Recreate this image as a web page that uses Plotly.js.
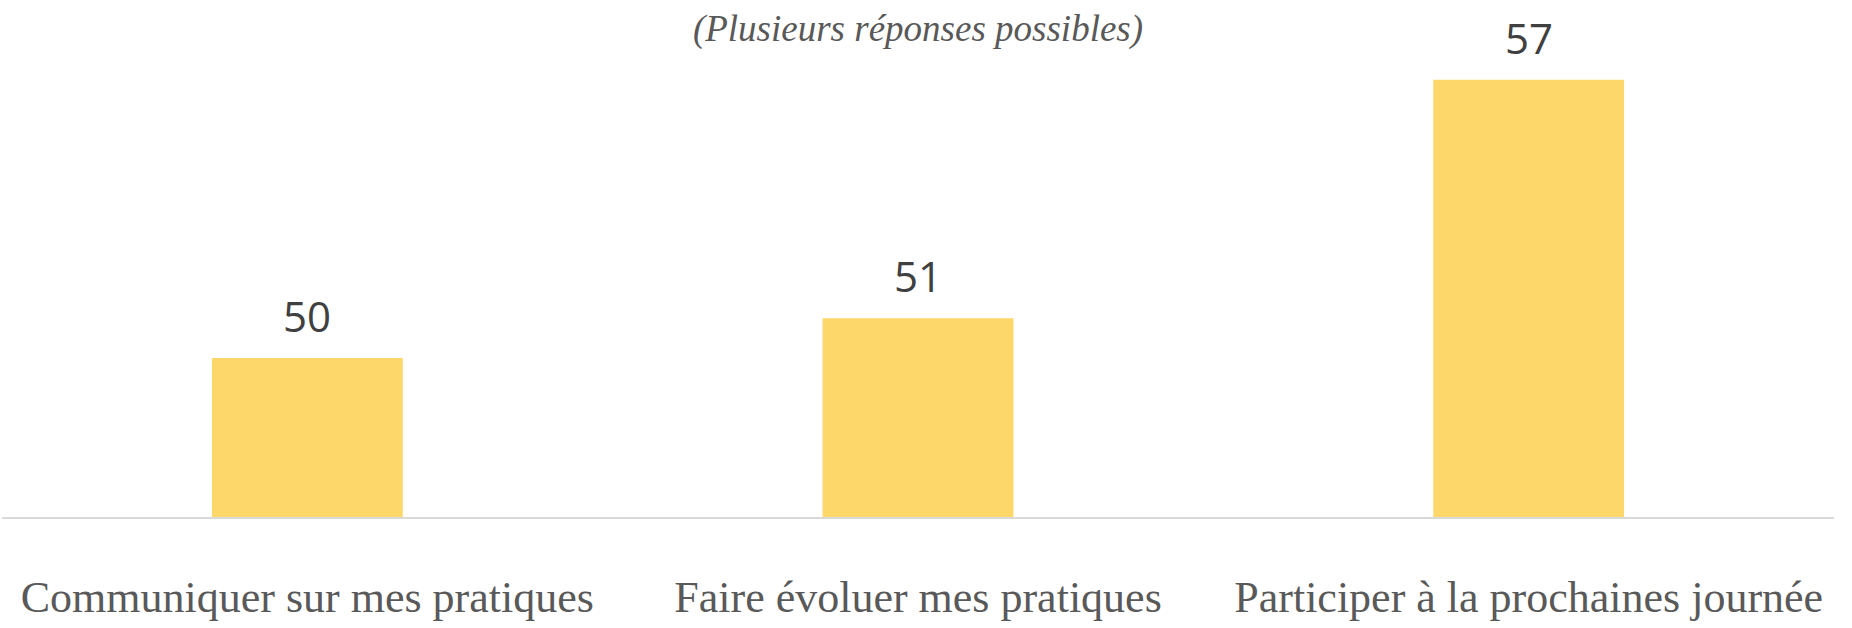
<!DOCTYPE html>
<html>
<head>
<meta charset="utf-8">
<script src="https://cdn.plot.ly/plotly-3.0.1.min.js"></script>
<style>html,body{margin:0;padding:0;background:#fff;}#chart{width:1852px;height:628px;}</style>
</head>
<body>
<div id="chart"></div>
<script>
const categories = ["Communiquer sur mes pratiques", "Faire évoluer mes pratiques", "Participer à la prochaines journée"];
const values = [50, 51, 57];
const titleText = "(Plusieurs réponses possibles)";

const trace = {
  type: "bar",
  x: categories,
  y: values,
  marker: {color: "#FDD769"},
  width: 0.3125,
  hoverinfo: "none"
};

const annotations = categories.map((c, i) => ({
  x: c, y: values[i], xref: "x", yref: "y",
  text: String(values[i]), showarrow: false,
  yanchor: "bottom", yshift: 12,
  font: {family: "Open Sans, sans-serif", size: 42, color: "#404040"}
}));

const layout = {
  width: 1852, height: 628,
  margin: {l: 2, r: 18, t: 40, b: 111},
  paper_bgcolor: "#ffffff", plot_bgcolor: "#ffffff",
  showlegend: false,
  title: {
    text: titleText,
    font: {family: "Liberation Serif, serif", size: 37, color: "#595959", style: "italic"},
    x: 0.5, xref: "paper", xanchor: "center",
    y: 1 - 28/628, yref: "container", yanchor: "middle"
  },
  xaxis: {
    type: "category",
    showline: true, linecolor: "#D9D9D9", linewidth: 2,
    showgrid: false, zeroline: false, ticks: "",
    ticklabelstandoff: 40,
    tickfont: {family: "Liberation Serif, serif", size: 44, color: "#595959"}
  },
  yaxis: {
    range: [46, 58], visible: false, showgrid: false, zeroline: false, fixedrange: true
  },
  annotations: annotations
};

Plotly.newPlot("chart", [trace], layout, {staticPlot: true, displayModeBar: false});
</script>
</body>
</html>
